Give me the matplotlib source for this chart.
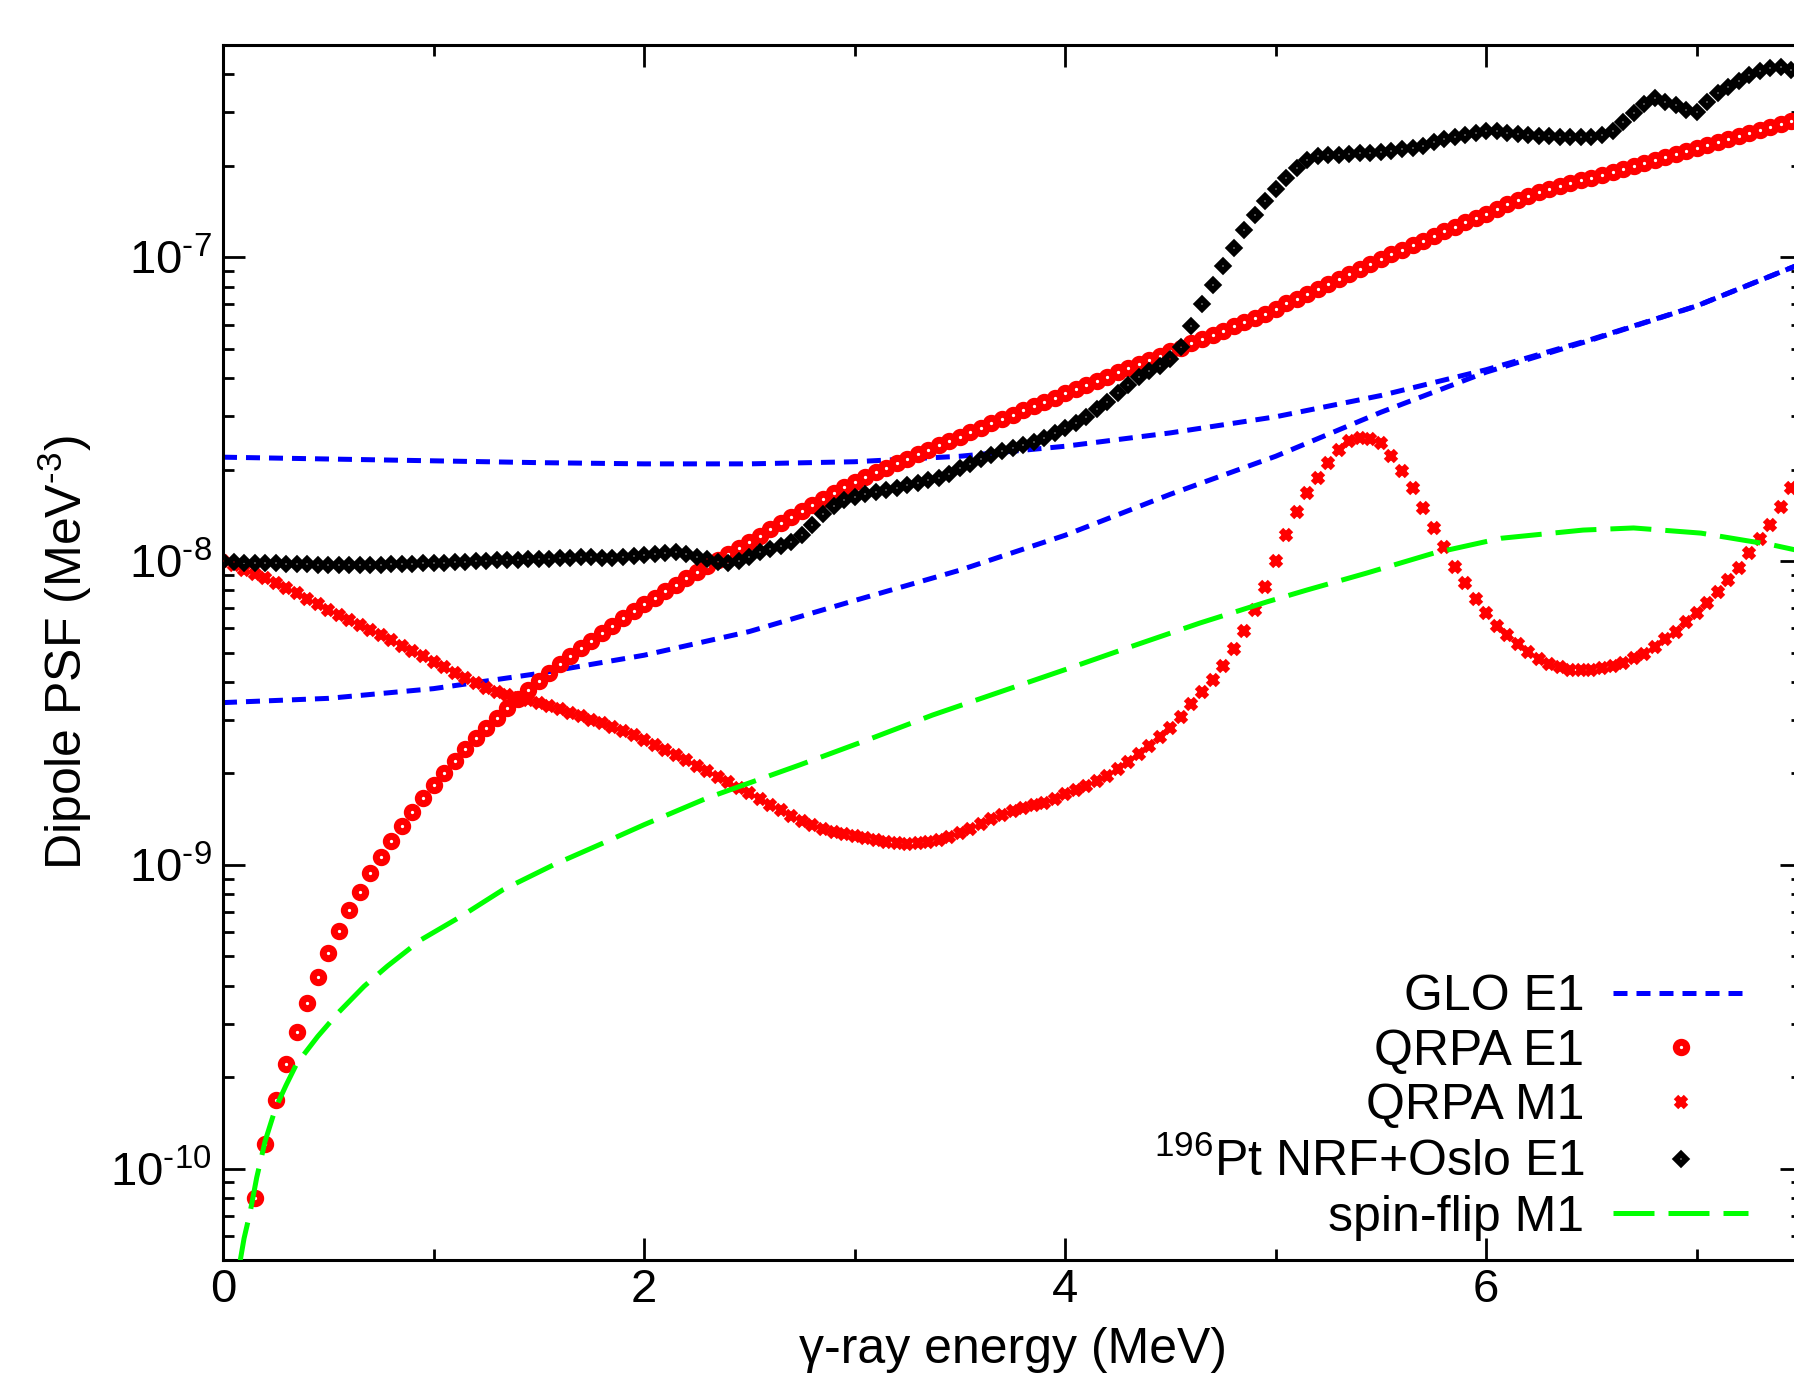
import numpy as np
import matplotlib
matplotlib.use("Agg")
import matplotlib.pyplot as plt
from matplotlib.ticker import LogLocator, FixedLocator, FuncFormatter, NullFormatter

plt.rcParams['font.family'] = ['Liberation Sans', 'DejaVu Sans']
plt.rcParams['mathtext.fontset'] = 'custom'
plt.rcParams['mathtext.rm'] = 'Liberation Sans'
plt.rcParams['mathtext.it'] = 'Liberation Sans:italic'
plt.rcParams['mathtext.bf'] = 'Liberation Sans:bold'

# energy grid of the point series (MeV), 0.05 MeV steps
e_grid = np.round(np.arange(151) * 0.05, 2)
e_qrpa_e1 = e_grid[3:]

# log10 of the strength function (MeV^-3)
qrpa_e1_log = [
    -10.096, -9.918, -9.775, -9.655, -9.550, -9.455, -9.370, -9.290, -9.217, -9.150,
    -9.088, -9.028, -8.974, -8.921, -8.872, -8.826, -8.781, -8.738, -8.697, -8.657,
    -8.619, -8.583, -8.549, -8.517, -8.485, -8.455, -8.425, -8.396, -8.368, -8.340,
    -8.313, -8.287, -8.262, -8.237, -8.213, -8.189, -8.166, -8.143, -8.121, -8.099,
    -8.078, -8.057, -8.036, -8.016, -7.996, -7.976, -7.956, -7.936, -7.916, -7.896,
    -7.876, -7.856, -7.836, -7.815, -7.795, -7.776, -7.757, -7.739, -7.722, -7.706,
    -7.692, -7.677, -7.663, -7.648, -7.634, -7.619, -7.605, -7.590, -7.576, -7.561,
    -7.547, -7.532, -7.518, -7.504, -7.490, -7.476, -7.462, -7.448, -7.435, -7.421,
    -7.407, -7.393, -7.379, -7.365, -7.352, -7.338, -7.324, -7.310, -7.297, -7.283,
    -7.269, -7.255, -7.241, -7.227, -7.213, -7.199, -7.185, -7.169, -7.152, -7.136,
    -7.120, -7.103, -7.087, -7.071, -7.054, -7.038, -7.021, -7.005, -6.990, -6.975,
    -6.960, -6.945, -6.930, -6.915, -6.900, -6.885, -6.870, -6.856, -6.841, -6.826,
    -6.811, -6.797, -6.786, -6.776, -6.766, -6.756, -6.747, -6.738, -6.729, -6.720,
    -6.710, -6.700, -6.690, -6.680, -6.670, -6.660, -6.650, -6.640, -6.630, -6.620,
    -6.610, -6.600, -6.590, -6.580, -6.570, -6.560, -6.550, -6.540,
]

qrpa_m1_log = [
    -8.000, -8.014, -8.028, -8.042, -8.057, -8.073, -8.090, -8.106, -8.124, -8.142,
    -8.160, -8.176, -8.193, -8.210, -8.226, -8.243, -8.260, -8.278, -8.296, -8.314,
    -8.332, -8.350, -8.368, -8.386, -8.402, -8.418, -8.430, -8.440, -8.450, -8.459,
    -8.468, -8.478, -8.488, -8.499, -8.510, -8.522, -8.534, -8.546, -8.560, -8.574,
    -8.590, -8.605, -8.622, -8.638, -8.656, -8.674, -8.692, -8.710, -8.728, -8.746,
    -8.765, -8.784, -8.803, -8.820, -8.838, -8.856, -8.870, -8.882, -8.891, -8.898,
    -8.905, -8.912, -8.918, -8.924, -8.928, -8.930, -8.929, -8.925, -8.918, -8.908,
    -8.896, -8.882, -8.866, -8.850, -8.836, -8.824, -8.814, -8.804, -8.795, -8.782,
    -8.768, -8.754, -8.740, -8.725, -8.706, -8.684, -8.660, -8.635, -8.608, -8.580,
    -8.548, -8.512, -8.472, -8.430, -8.392, -8.345, -8.290, -8.230, -8.160, -8.085,
    -8.000, -7.915, -7.838, -7.776, -7.726, -7.676, -7.635, -7.605, -7.595, -7.597,
    -7.612, -7.655, -7.703, -7.760, -7.826, -7.892, -7.954, -8.020, -8.073, -8.126,
    -8.172, -8.214, -8.245, -8.274, -8.300, -8.322, -8.338, -8.350, -8.357, -8.360,
    -8.359, -8.353, -8.345, -8.334, -8.320, -8.305, -8.283, -8.258, -8.232, -8.202,
    -8.171, -8.138, -8.103, -8.063, -8.022, -7.975, -7.926, -7.880, -7.822, -7.760,
    -7.700,
]

pt196_log = [
    -8.000, -8.003, -8.005, -8.006, -8.007, -8.008, -8.009, -8.010, -8.011, -8.012,
    -8.013, -8.013, -8.013, -8.013, -8.012, -8.012, -8.011, -8.010, -8.009, -8.008,
    -8.007, -8.006, -8.004, -8.003, -8.001, -8.000, -7.998, -7.997, -7.996, -7.994,
    -7.993, -7.992, -7.990, -7.989, -7.987, -7.988, -7.990, -7.989, -7.986, -7.984,
    -7.980, -7.976, -7.972, -7.970, -7.976, -7.985, -7.994, -8.002, -8.007, -8.000,
    -7.985, -7.970, -7.960, -7.950, -7.938, -7.915, -7.880, -7.845, -7.818, -7.800,
    -7.788, -7.780, -7.772, -7.765, -7.758, -7.750, -7.742, -7.733, -7.725, -7.712,
    -7.695, -7.680, -7.665, -7.650, -7.638, -7.628, -7.618, -7.608, -7.596, -7.580,
    -7.562, -7.545, -7.525, -7.500, -7.475, -7.448, -7.420, -7.395, -7.375, -7.358,
    -7.335, -7.295, -7.225, -7.155, -7.090, -7.030, -6.970, -6.910, -6.860, -6.815,
    -6.775, -6.740, -6.705, -6.680, -6.668, -6.664, -6.662, -6.660, -6.658, -6.656,
    -6.654, -6.650, -6.645, -6.640, -6.632, -6.622, -6.612, -6.605, -6.598, -6.590,
    -6.585, -6.585, -6.590, -6.595, -6.598, -6.600, -6.602, -6.603, -6.603, -6.604,
    -6.603, -6.598, -6.585, -6.555, -6.525, -6.495, -6.475, -6.488, -6.500, -6.515,
    -6.522, -6.490, -6.460, -6.438, -6.418, -6.400, -6.388, -6.378, -6.375, -6.382,
    -6.385,
]

# GLO E1 curves (two of them)
glo_e = [0.0, 0.5, 1.0, 1.5, 2.0, 2.5, 3.0, 3.5, 4.0, 4.5, 5.0, 5.5, 6.0, 6.5, 7.0, 7.5]
glo_upper_log = [-7.658, -7.664, -7.670, -7.676, -7.680, -7.680, -7.673, -7.655,
                 -7.622, -7.578, -7.525, -7.455, -7.370, -7.270, -7.160, -7.020]
glo_lower_log = [-8.466, -8.452, -8.420, -8.370, -8.310, -8.232, -8.130, -8.030,
                 -7.915, -7.780, -7.655, -7.510, -7.378, -7.272, -7.160, -7.020]

# spin-flip M1
sf_e = [0.08, 0.10, 0.13, 0.16, 0.20, 0.25, 0.30, 0.35, 0.45, 0.55, 0.67, 0.78, 0.94,
        1.13, 1.33, 1.57, 1.80, 2.00, 2.30, 2.74, 3.06, 3.37, 3.69, 4.01, 4.32, 4.64,
        4.96, 5.15, 5.43, 5.75, 6.07, 6.46, 6.70, 7.02, 7.36, 7.50]
sf_log = [-10.31, -10.23, -10.14, -10.03, -9.91, -9.80, -9.725, -9.655, -9.565, -9.485,
          -9.400, -9.334, -9.247, -9.170, -9.082, -9.000, -8.930, -8.868, -8.780, -8.671,
          -8.589, -8.507, -8.431, -8.355, -8.280, -8.204, -8.134, -8.095, -8.040, -7.974,
          -7.925, -7.898, -7.891, -7.908, -7.947, -7.968]

W, H = 1794, 1376
fig = plt.figure(figsize=(W / 100, H / 100), dpi=100)
# the right spine sits just outside the picture, as in the original
ax = fig.add_axes([223 / W, 1 - 1260 / H, 1579 / W, 1215 / H])

lw = 3.6
ax.plot(glo_e, 10 ** np.array(glo_upper_log), color='#0000ff', lw=lw,
        dashes=(2.8, 1.8), dash_capstyle='butt', label='GLO E1', zorder=2)
ax.plot(glo_e, 10 ** np.array(glo_lower_log), color='#0000ff', lw=lw,
        dashes=(2.8, 1.8), dash_capstyle='butt', zorder=2)
ax.plot(e_qrpa_e1, 10 ** np.array(qrpa_e1_log), ls='none', marker='o', ms=7.5,
        mfc='none', mec='#ff0000', mew=5.0, label='QRPA E1', zorder=3)
ax.plot(e_grid, 10 ** np.array(qrpa_m1_log), ls='none', marker='x', ms=7.5,
        mew=4.5, color='#ff0000', label='QRPA M1', zorder=4)
ax.plot(e_grid, 10 ** np.array(pt196_log), ls='none', marker='D', ms=5.5,
        mfc='none', mec='black', mew=4.3, label='$^{196}$Pt NRF+Oslo E1', zorder=5)
ax.plot(sf_e, 10 ** np.array(sf_log), color='#00ff00', lw=lw,
        dashes=(8.2, 2.8), dash_capstyle='butt', label='spin-flip M1', zorder=6)

ax.set_yscale('log')
ax.set_xlim(0, 7.5)
ax.set_ylim(5e-11, 5e-7)

ax.set_xticks([0, 2, 4, 6])
ax.set_xticks([1, 3, 5, 7], minor=True)
ax.yaxis.set_major_locator(FixedLocator([1e-10, 1e-9, 1e-8, 1e-7]))
ax.yaxis.set_minor_locator(LogLocator(base=10, subs=np.arange(2, 10), numticks=20))
ax.yaxis.set_major_formatter(FuncFormatter(
    lambda v, p: r'10$^{\text{-%d}}$' % int(round(-np.log10(v)))))
ax.yaxis.set_minor_formatter(NullFormatter())

ax.tick_params(which='both', direction='in', top=True, right=True, width=2,
               labelsize=34)
ax.tick_params(which='major', length=15.8)
ax.tick_params(which='minor', length=7.9)
ax.tick_params(axis='y', pad=8)
ax.tick_params(axis='x', pad=6)
for s in ax.spines.values():
    s.set_linewidth(2.2)

ax.set_xlabel('γ-ray energy (MeV)', fontsize=36)
ax.set_ylabel('Dipole PSF (MeV$^{\\text{-3}}$)', fontsize=36)
ax.xaxis.set_label_coords(0.5, -0.055)
ax.yaxis.set_label_coords(-0.082, 0.5)

ax.legend(loc='lower right', bbox_to_anchor=(0.966, 0.016), markerfirst=False,
          frameon=False, fontsize=36, handlelength=2.7, handletextpad=0.58,
          labelspacing=0.17, borderpad=0, borderaxespad=0, numpoints=1)

fig.savefig('out.png', dpi=100)
